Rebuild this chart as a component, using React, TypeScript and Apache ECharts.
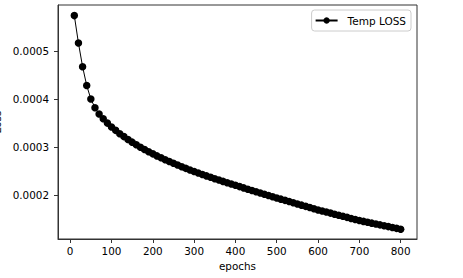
import React, { useEffect, useRef } from "react";
import * as echarts from "echarts";

const epochs: number[] = [];
for (let e = 10; e <= 800; e += 10) epochs.push(e);

// Loss values (x 1e-6)
const lossMicro: number[] = [
  573, 516, 467, 428, 400, 382, 369, 359, 350, 342,
  335, 328, 322, 316, 310.5, 305, 300, 295.2, 290.6, 286.2,
  282.0, 278.0, 274.1, 270.3, 266.6, 263.0, 259.5, 256.1, 252.8, 249.6,
  246.5, 243.5, 240.5, 237.6, 234.7, 231.9, 229.1, 226.4, 223.7, 221.0,
  218.3, 215.6, 212.9, 210.3, 207.7, 205.1, 202.5, 199.9, 197.3, 194.8,
  192.3, 189.8, 187.3, 184.8, 182.3, 179.8, 177.3, 174.8, 172.3, 169.9,
  167.7, 165.5, 163.3, 161.1, 158.9, 156.7, 154.5, 152.3, 150.1, 147.9,
  146.1, 144.3, 142.5, 140.7, 138.9, 137.1, 135.3, 133.5, 131.7, 129.9,
];

const xTicks = [0, 100, 200, 300, 400, 500, 600, 700, 800];
const yTicks = [0.0002, 0.0003, 0.0004, 0.0005];

const FONT = "DejaVu Sans";
const AXIS_COLOR = "#333333";

export default function App() {
  const ref = useRef<HTMLDivElement>(null);
  useEffect(() => {
    if (!ref.current) return;
    const chart = echarts.init(ref.current, undefined, { renderer: "svg" });
    const data = epochs.map((e, i) => [e, lossMicro[i] * 1e-6]);
    chart.setOption({
      animation: false,
      backgroundColor: "#ffffff",
      grid: {
        left: 58,
        right: 46,
        top: 5,
        bottom: 39,
        containLabel: false,
        outerBoundsMode: "none",
        show: true,
        borderColor: AXIS_COLOR,
        borderWidth: 1,
        backgroundColor: "transparent",
      },
      legend: {
        right: 52,
        top: 10,
        padding: [5, 5, 5, 3],
        borderColor: "#cccccc",
        borderWidth: 1,
        borderRadius: 3,
        backgroundColor: "#ffffff",
        itemWidth: 22,
        itemHeight: 8,
        textStyle: {
          fontFamily: FONT,
          fontSize: 10.5,
          color: "#000",
          padding: [0, 0, 0, 5],
        },
        data: ["Temp LOSS"],
      },
      xAxis: {
        type: "value",
        min: -29.5,
        max: 839.5,
        name: "epochs",
        nameLocation: "middle",
        nameGap: 22,
        nameTextStyle: { fontFamily: FONT, fontSize: 10.4, color: "#000" },
        axisLine: { show: true, onZero: false, lineStyle: { color: AXIS_COLOR, width: 1 } },
        axisTick: {
          show: true,
          length: 4,
          inside: false,
          customValues: xTicks,
          lineStyle: { color: AXIS_COLOR },
        },
        axisLabel: {
          customValues: xTicks,
          fontFamily: FONT,
          fontSize: 10.4,
          color: "#000",
          margin: 7,
        },
        splitLine: { show: false },
      },
      yAxis: {
        type: "value",
        min: 0.0001096,
        max: 0.000595,
        name: "Loss",
        nameLocation: "middle",
        nameGap: 47,
        nameTextStyle: { fontFamily: FONT, fontSize: 10.4, color: "#000" },
        axisLine: { show: true, onZero: false, lineStyle: { color: AXIS_COLOR, width: 1 } },
        axisTick: {
          show: true,
          length: 4,
          inside: false,
          customValues: yTicks,
          lineStyle: { color: AXIS_COLOR },
        },
        axisLabel: {
          customValues: yTicks,
          fontFamily: FONT,
          fontSize: 10.4,
          color: "#000",
          margin: 9,
          formatter: (v: number) => v.toFixed(4),
        },
        splitLine: { show: false },
      },
      series: [
        {
          name: "Temp LOSS",
          type: "line",
          data,
          symbol: "circle",
          symbolSize: 7.5,
          showSymbol: true,
          showAllSymbol: true,
          lineStyle: { color: "#000", width: 1 },
          itemStyle: { color: "#000" },
        },
      ],
    });
    return () => chart.dispose();
  }, []);
  return (
    <div
      ref={ref}
      style={{ position: "fixed", left: 0, top: 0, width: 463, height: 278 }}
    />
  );
}
